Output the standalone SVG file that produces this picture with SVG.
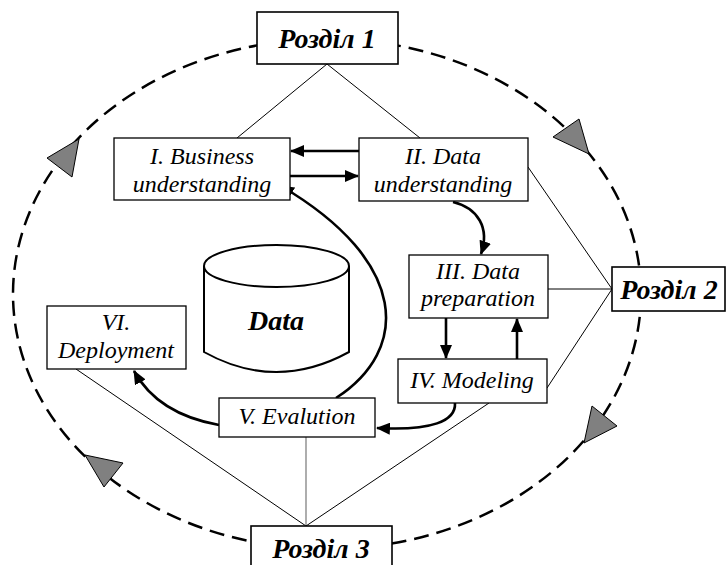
<svg xmlns="http://www.w3.org/2000/svg" width="728" height="565" viewBox="0 0 728 565">
<style>
.box{fill:#fff;stroke:#000;stroke-width:1.3}
.sec{fill:#fff;stroke:#000;stroke-width:1.6}
.lbl{font-style:italic;font-size:24px;fill:#000;text-anchor:middle}
.big{font-style:italic;font-weight:bold;font-size:28px;fill:#000;text-anchor:middle}
.thin{stroke:#000;stroke-width:1;fill:none}
.arr{stroke:#000;stroke-width:2.6;fill:none;marker-end:url(#ah)}
.tri{fill:#808080;stroke:#000;stroke-width:1}
</style>
<defs>
<marker id="ah" markerUnits="userSpaceOnUse" viewBox="0 0 14 12" refX="13" refY="6" markerWidth="14" markerHeight="12" orient="auto">
<path d="M0,0 L14,6 L0,12 Z" fill="#000"/>
</marker>
</defs>
<g id="cycle">
<ellipse cx="327" cy="294" rx="314" ry="255" fill="none" stroke="#000" stroke-width="2.5" stroke-dasharray="15,8"/>
<polygon class="tri" points="47,158 79,139 72,177"/>
<polygon class="tri" points="553,137 579,119 589,154"/>
<polygon class="tri" points="592,406 617,426 584,443"/>
<polygon class="tri" points="85,455 123,463 104,487"/>
</g>
<g id="connectors">
<line class="thin" x1="327" y1="64" x2="237" y2="138"/>
<line class="thin" x1="327" y1="64" x2="420" y2="138"/>
<line class="thin" x1="528" y1="167" x2="612" y2="289"/>
<line class="thin" x1="548" y1="289" x2="612" y2="289"/>
<line class="thin" x1="547" y1="388" x2="612" y2="289"/>
<line class="thin" x1="76" y1="369" x2="306" y2="526"/>
<line x1="306" y1="437" x2="306" y2="526" stroke="#777" stroke-width="1.2"/>
<line class="thin" x1="489" y1="403" x2="306" y2="526"/>
<line class="arr" x1="359" y1="151" x2="291" y2="151"/>
<line class="arr" x1="290" y1="176" x2="358" y2="176"/>
<path class="arr" d="M453,202 C478,208 490,228 481,254"/>
<line class="arr" x1="446" y1="318" x2="446" y2="358"/>
<line class="arr" x1="517" y1="359" x2="517" y2="319"/>
<path class="arr" d="M455,403 C456,421 432,431 377,428"/>
<path class="arr" d="M219,425 C180,418 150,400 134,371"/>
<path class="arr" d="M336,398 C410,350 410,262 281,186"/>
</g>
<g font-family="Liberation Serif, Times New Roman, serif">
<g id="data">
<path d="M204,266 L204,352 Q276,392 349,352 L349,266" fill="#fff" stroke="#000" stroke-width="2"/>
<ellipse cx="276.5" cy="266" rx="72.5" ry="21" fill="#fff" stroke="#000" stroke-width="2"/>
<text class="big" x="276" y="330">Data</text>
</g>
<g id="razdil1">
<rect class="sec" x="257" y="12" width="141" height="52"/>
<text class="big" x="327" y="48">Розділ 1</text>
</g>
<g id="razdil2">
<rect class="sec" x="612" y="267" width="113" height="44"/>
<text class="big" x="669" y="299">Розділ 2</text>
</g>
<g id="razdil3">
<rect class="sec" x="251" y="526" width="141" height="44"/>
<text class="big" x="321" y="558">Розділ 3</text>
</g>
<g id="business">
<rect class="box" x="114" y="138" width="176" height="62"/>
<text class="lbl" x="202" y="164">I. Business</text>
<text class="lbl" x="202" y="192">understanding</text>
</g>
<g id="dataunderstanding">
<rect class="box" x="359" y="138" width="169" height="63"/>
<text class="lbl" x="443" y="164">II. Data</text>
<text class="lbl" x="443" y="192">understanding</text>
</g>
<g id="preparation">
<rect class="box" x="409" y="255" width="139" height="63"/>
<text class="lbl" x="478" y="279">III. Data</text>
<text class="lbl" x="478" y="306">preparation</text>
</g>
<g id="modeling">
<rect class="box" x="398" y="359" width="149" height="44"/>
<text class="lbl" x="472" y="388">IV. Modeling</text>
</g>
<g id="evaluation">
<rect class="box" x="219" y="398" width="156" height="39"/>
<text class="lbl" x="297" y="424">V. Evalution</text>
</g>
<g id="deployment">
<rect class="box" x="47" y="306" width="139" height="63"/>
<text class="lbl" x="116" y="330">VI.</text>
<text class="lbl" x="116" y="358">Deployment</text>
</g>
</g>
</svg>
